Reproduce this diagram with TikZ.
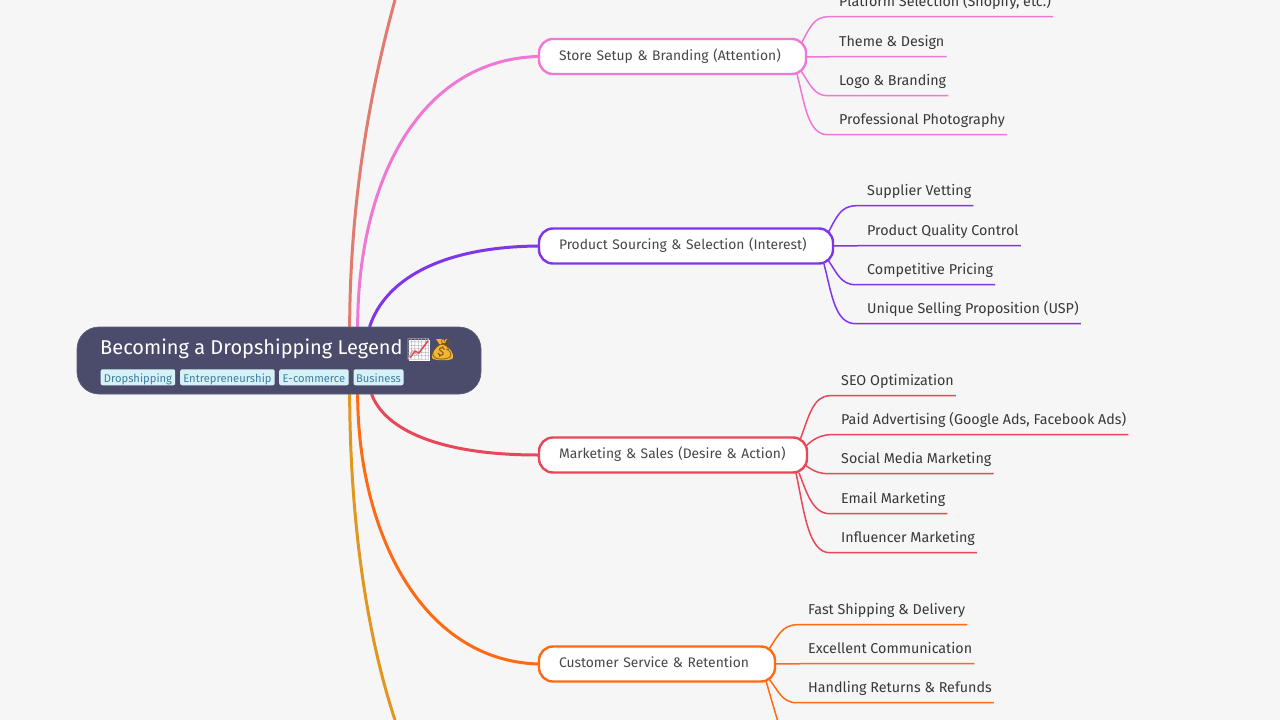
\documentclass[tikz,border=0pt]{standalone}
\usepackage{fontspec}
\setmainfont{Fira Sans}
\newfontfamily\emojifont{Noto Emoji}
\usetikzlibrary{backgrounds,calc}
\definecolor{bgc}{HTML}{F6F6F6}
\definecolor{rootc}{HTML}{4B4C6B}
\definecolor{tagc}{HTML}{D7F1F8}
\definecolor{tagt}{HTML}{3E7F9C}
\definecolor{pinkc}{HTML}{EE78D4}
\definecolor{purplec}{HTML}{7F35EC}
\definecolor{redc}{HTML}{E8475A}
\definecolor{orangec}{HTML}{FF6A13}
\definecolor{salmonc}{HTML}{E07B70}
\definecolor{goldc}{HTML}{E0961F}
\definecolor{bagc}{HTML}{F2B632}
\tikzset{
  x=1pt,y=-1pt,
  rootbox/.style={draw=rootc!90!white,line width=0.7pt,fill=rootc,rounded corners=22pt,minimum width=404pt,minimum height=67pt,inner sep=0pt},
  title/.style={text=white,font=\fontsize{20}{22}\selectfont,inner sep=0pt,anchor=west,text height=15pt,text depth=4pt},
  tag/.style={fill=tagc,text=tagt,font=\fontsize{11.2}{12}\selectfont,rounded corners=2pt,inner sep=0pt,minimum height=16pt,anchor=west,text height=12pt,text depth=2pt},
  branch/.style={draw=#1,fill=white,line width=2.4pt,rounded corners=14pt,minimum height=35pt,inner ysep=0pt,inner xsep=20pt,align=left,text=black!72,font=\fontsize{13.85}{16}\selectfont,text height=10.5pt,text depth=3.5pt},
  leaf/.style={text=black!78,font=\fontsize{14.3}{16}\selectfont,inner xsep=2pt,inner ysep=0pt,minimum height=30pt,anchor=west,text height=12.3pt,text depth=2.7pt,yshift=0.5pt},
  trunk/.style={draw=#1,line width=3pt,line cap=round},
  twig/.style={draw=#1,line width=1.5pt}
}
\begin{document}
\begin{tikzpicture}
\useasboundingbox (0,0) rectangle (1280,720);
\clip (0,0) rectangle (1280,720);
% root
\node[rootbox] (root) at (279,360.5) {};
\node[title] (roottitle) at (100,349) {Becoming a Dropshipping Legend};
\node[fill=white,minimum size=21pt,inner sep=0pt] (chartbg) at (419,350) {};
\node[text=black!30,inner sep=0pt,font=\emojifont\fontsize{21}{22}\selectfont] (chart) at (418.5,349.5) {📈};
\draw[redc,line width=1.4pt] (410,358) -- (415,351) -- (419,353) -- (428,341);
\fill[bagc] (436,339) -- (447,339) -- (444,345) .. controls (450,347) and (454,354) .. (453,358) .. controls (452,361) and (434,361) .. (432,358) .. controls (431,354) and (436,347) .. (440,345) -- cycle;
\node[text=black!45!goldc,inner sep=0pt,font=\emojifont\fontsize{21}{22}\selectfont] (bag) at (442,349.5) {💰};
\node[tag,minimum width=74.5pt] (t1) at (100.5,377.3) {Dropshipping};
\node[tag,minimum width=94.5pt] (t2) at (180,377.3) {Entrepreneurship};
\node[tag,minimum width=69.5pt] (t3) at (279,377.3) {E-commerce};
\node[tag,minimum width=50pt] (t4) at (353.3,377.3) {Business};
% branches
\node[branch=pinkc,text width=227pt] (b1) at (672.5,56.5) {\mbox{Store Setup \& Branding (Attention)}};
\node[branch=purplec,text width=254pt] (b2) at (686,246) {\mbox{Product Sourcing \& Selection (Interest)}};
\node[branch=redc,text width=228pt] (b3) at (673,455) {\mbox{Marketing \& Sales (Desire \& Action)}};
\node[branch=orangec,text width=196pt] (b4) at (657,664) {\mbox{Customer Service \& Retention}};
% leaves
\node[leaf] (l11) at (837,2) {Platform Selection (Shopify, etc.)};
\node[leaf] (l12) at (837,42) {Theme \& Design};
\node[leaf] (l13) at (837,81) {Logo \& Branding};
\node[leaf] (l14) at (837,120) {Professional Photography};
\node[leaf] (l21) at (865,191) {Supplier Vetting};
\node[leaf] (l22) at (865,231) {Product Quality Control};
\node[leaf] (l23) at (865,270) {Competitive Pricing};
\node[leaf] (l24) at (865,309) {Unique Selling Proposition (USP)};
\node[leaf] (l31) at (839,381) {SEO Optimization};
\node[leaf] (l32) at (839,420) {Paid Advertising (Google Ads, Facebook Ads)};
\node[leaf] (l33) at (839,459) {Social Media Marketing};
\node[leaf] (l34) at (839,499) {Email Marketing};
\node[leaf] (l35) at (839,538) {Influencer Marketing};
\node[leaf] (l41) at (806,610) {Fast Shipping \& Delivery};
\node[leaf] (l42) at (806,649) {Excellent Communication};
\node[leaf] (l43) at (806,688) {Handling Returns \& Refunds};
% free ends
\coordinate (topend) at (395,0);
\coordinate (botend) at (395,720);
\coordinate (twigend) at (778,722);
\begin{scope}[on background layer]
\fill[bgc] (0,0) rectangle (1280,720);
% trunks
\draw[trunk=salmonc] (topend) .. controls (362,120) and (350,230) .. ($(root.north west)+(273,0)$);
\draw[trunk=pinkc] (b1.west) .. controls (420,60) and (358,180) .. ($(root.north west)+(281,0)$);
\draw[trunk=purplec] (b2.west) .. controls (440,247) and (385,280) .. ($(root.north west)+(293,0)$);
\draw[trunk=redc] (b3.west) .. controls (440,455) and (385,430) .. ($(root.south west)+(295,0)$);
\draw[trunk=orangec] (b4.west) .. controls (420,660) and (358,530) .. ($(root.south west)+(281,0)$);
\draw[trunk=goldc] (botend) .. controls (362,620) and (350,500) .. ($(root.south west)+(273,0)$);
% store twigs
\draw[twig=pinkc] (801,44) .. controls (810,27) and (814,17) .. ($(l11.south west)+(-9,0)$) -- (l11.south east);
\draw[twig=pinkc] ($(b1.east |- l12.south)+(0,0.2)$) -- (l12.south west) -- (l12.south east);
\draw[twig=pinkc] (801,71) .. controls (810,84) and (814,96) .. ($(l13.south west)+(-9,0)$) -- (l13.south east);
\draw[twig=pinkc] (797,74) .. controls (805,105) and (808,135) .. ($(l14.south west)+(-9,0)$) -- (l14.south east);
% product twigs
\draw[twig=purplec] (828,233) .. controls (837,216) and (841,206) .. ($(l21.south west)+(-9,0)$) -- (l21.south east);
\draw[twig=purplec] ($(b2.east |- l22.south)+(0,0.2)$) -- (l22.south west) -- (l22.south east);
\draw[twig=purplec] (828,260) .. controls (837,273) and (841,285) .. ($(l23.south west)+(-9,0)$) -- (l23.south east);
\draw[twig=purplec] (824,264) .. controls (832,295) and (835,324) .. ($(l24.south west)+(-9,0)$) -- (l24.south east);
% marketing twigs
\draw[twig=redc] (800,440) .. controls (809,416) and (813,396) .. ($(l31.south west)+(-9,0)$) -- (l31.south east);
\draw[twig=redc] (806,446) .. controls (812,440) and (820,435) .. ($(l32.south west)+(-9,0)$) -- (l32.south east);
\draw[twig=redc] (805,465) .. controls (812,470) and (818,474) .. ($(l33.south west)+(-9,0)$) -- (l33.south east);
\draw[twig=redc] (799,473) .. controls (806,490) and (812,514) .. ($(l34.south west)+(-9,0)$) -- (l34.south east);
\draw[twig=redc] (796,473) .. controls (804,510) and (808,553) .. ($(l35.south west)+(-9,0)$) -- (l35.south east);
% customer twigs
\draw[twig=orangec] (769,649) .. controls (778,636) and (782,625) .. ($(l41.south west)+(-9,0)$) -- (l41.south east);
\draw[twig=orangec] ($(b4.east |- l42.south)+(0,0.2)$) -- (l42.south west) -- (l42.south east);
\draw[twig=orangec] (769,679) .. controls (778,690) and (782,703) .. ($(l43.south west)+(-9,0)$) -- (l43.south east);
\draw[twig=orangec] (766,681) -- (twigend);
\end{scope}
\end{tikzpicture}
\end{document}
